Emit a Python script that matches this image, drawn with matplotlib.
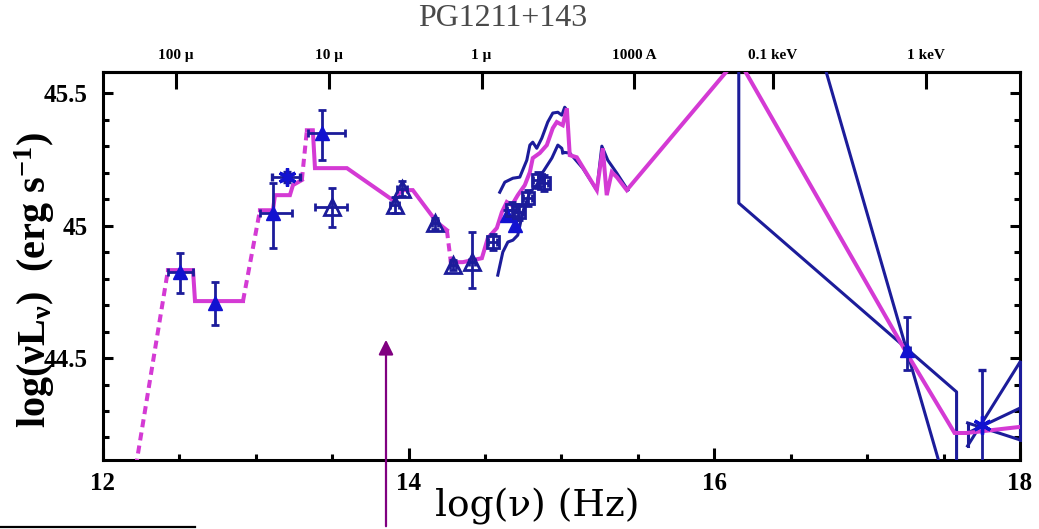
import matplotlib.pyplot as plt
import numpy as np
from matplotlib.lines import Line2D

# ---- SED model (magenta), dashed where interpolated ----
model_x = [12.215, 12.425, 12.589, 12.602, 12.916, 13.027, 13.112, 13.125, 13.223, 13.243,
           13.301, 13.334, 13.373, 13.387, 13.596, 13.897, 13.956, 14.027, 14.184, 14.250,
           14.276, 14.354, 14.420, 14.479, 14.518, 14.577, 14.610, 14.642, 14.675, 14.714,
           14.760, 14.793, 14.812, 14.858, 14.904, 14.943, 14.969, 15.008, 15.035, 15.054,
           15.100, 15.139, 15.231, 15.270, 15.296, 15.329, 15.362, 15.427, 16.153, 17.258,
           17.572, 17.651, 18.0]
model_y = [44.09, 44.832, 44.832, 44.715, 44.715, 45.058, 45.058, 45.115, 45.115, 45.153,
           45.172, 45.360, 45.360, 45.217, 45.217, 45.096, 45.134, 45.134, 45.013, 44.983,
           44.862, 44.862, 44.870, 44.877, 44.953, 44.991, 45.051, 45.089, 45.077, 45.115,
           45.153, 45.202, 45.255, 45.274, 45.304, 45.368, 45.391, 45.379, 45.443, 45.266,
           45.258, 45.221, 45.134, 45.292, 45.115, 45.202, 45.183, 45.134, 45.632, 44.519,
           44.217, 44.217, 44.240]
dashed_segments = [0, 4, 10, 19]

# ---- optical / UV spectra (blue lines) ----
spec_hi_x = [14.596, 14.629, 14.682, 14.727, 14.773, 14.793, 14.812, 14.838, 14.871, 14.910,
             14.943, 14.976, 15.002, 15.021, 15.035]
spec_hi_y = [45.126, 45.164, 45.179, 45.183, 45.247, 45.304, 45.315, 45.292, 45.330, 45.391,
             45.425, 45.428, 45.417, 45.447, 45.436]
spec_lo_x = [14.583, 14.616, 14.649, 14.682, 14.714, 14.747, 14.793, 14.838, 14.878, 14.937,
             14.976, 15.002, 15.009]
spec_lo_y = [44.813, 44.900, 44.938, 44.945, 44.964, 45.051, 45.126, 45.153, 45.202, 45.255,
             45.304, 45.292, 45.274]
spec_uv_x = [15.009, 15.054, 15.139, 15.231, 15.264, 15.303, 15.362, 15.434]
spec_uv_y = [45.277, 45.274, 45.217, 45.134, 45.300, 45.247, 45.198, 45.134]

# ---- X-ray lines ----
xr1_x = [16.160, 16.160, 17.585, 17.585]
xr1_y = [45.70, 45.085, 44.372, 44.00]
xr2_x = [16.672, 17.524]
xr2_y = [45.70, 44.00]
bowtie_x = [[17.657, 18.0], [17.657, 18.0], [17.657, 18.0], [18.0, 18.0], [17.657, 17.657]]
bowtie_y = [[44.168, 44.485], [44.217, 44.311], [44.255, 44.191], [44.191, 44.485], [44.168, 44.255]]

# ---- photometric points ----
# filled triangles
ft_x = [12.504, 12.733, 13.112, 13.432, 17.258, 14.642, 14.695]
ft_y = [44.825, 44.708, 45.047, 45.349, 44.530, 45.040, 45.002]
ft_xlo = [0.079, 0.0, 0.085, 0.091, 0.02, 0.0, 0.0]
ft_xhi = [0.085, 0.0, 0.124, 0.151, 0.02, 0.0, 0.0]
ft_ylo = [0.080, 0.083, 0.132, 0.102, 0.075, 0.02, 0.02]
ft_yhi = [0.071, 0.079, 0.113, 0.087, 0.125, 0.02, 0.02]
# open triangles
ot_x = [13.498, 13.956, 13.910, 14.171, 14.289, 14.413]
ot_y = [45.070, 45.140, 45.077, 45.009, 44.851, 44.862]
ot_xlo = [0.111, 0.03, 0.03, 0.02, 0.02, 0.02]
ot_xhi = [0.098, 0.03, 0.03, 0.02, 0.02, 0.02]
ot_ylo = [0.076, 0.03, 0.03, 0.02, 0.02, 0.098]
ot_yhi = [0.072, 0.03, 0.03, 0.02, 0.02, 0.113]
# open squares
sq_x = [14.551, 14.675, 14.721, 14.780, 14.845, 14.884]
sq_y = [44.938, 45.058, 45.051, 45.104, 45.172, 45.160]
sq_err = [0.03, 0.03, 0.03, 0.03, 0.03, 0.03]
# asterisks
st_x = [13.203, 17.749]
st_y = [45.183, 44.247]
st_xlo = [0.098, 0.0]
st_xhi = [0.085, 0.0]
st_ylo = [0.02, 0.35]
st_yhi = [0.02, 0.208]

top_ticks = [12.477, 13.477, 14.477, 15.477, 16.383, 17.383]
top_labels = ["100 \u03bc", "10 \u03bc", "1 \u03bc", "1000 A", "0.1 keV", "1 keV"]

MAG = '#d43ad4'
BLUE = '#1c1c9a'
MBLUE = '#1212d0'

plt.rcParams['font.family'] = ['Liberation Serif', 'DejaVu Serif']
plt.rcParams['mathtext.fontset'] = 'custom'
plt.rcParams['mathtext.rm'] = 'Liberation Serif'
plt.rcParams['mathtext.it'] = 'Liberation Serif:italic'
plt.rcParams['mathtext.bf'] = 'Liberation Serif:bold'

fig = plt.figure(figsize=(10.39, 5.29), dpi=100)
ax = fig.add_axes([103/1039, 1-460/529, 917/1039, 388/529])

# model drawn in runs of solid / dashed
n = len(model_x)
i = 0
while i < n - 1:
    dashed = i in dashed_segments
    j = i
    while j < n - 1 and (j in dashed_segments) == dashed:
        j += 1
        if dashed:
            break
    ax.plot(model_x[i:j+1], model_y[i:j+1], color=MAG, lw=2.9,
            ls=(0, (2.0, 1.3)) if dashed else '-', zorder=4, solid_joinstyle='miter')
    i = j

for sx, sy in [(spec_hi_x, spec_hi_y), (spec_lo_x, spec_lo_y), (spec_uv_x, spec_uv_y)]:
    ax.plot(sx, sy, color=BLUE, lw=2.2, zorder=3)

ax.plot(xr1_x, xr1_y, color=BLUE, lw=2.2, zorder=3)
ax.plot(xr2_x, xr2_y, color=BLUE, lw=2.2, zorder=3)
for bx, by in zip(bowtie_x, bowtie_y):
    ax.plot(bx, by, color=BLUE, lw=2.2, zorder=3, clip_on=False)

ekw = dict(ecolor=BLUE, elinewidth=2.0, capsize=3, capthick=2.0, zorder=5, ls='none')
ax.errorbar(ft_x, ft_y, xerr=[ft_xlo, ft_xhi], yerr=[ft_ylo, ft_yhi], fmt='^',
            ms=10, mfc=MBLUE, mec=MBLUE, **ekw)
ax.errorbar(ot_x, ot_y, xerr=[ot_xlo, ot_xhi], yerr=[ot_ylo, ot_yhi], fmt='^',
            ms=11, mfc='none', mec=BLUE, mew=2.0, **ekw)
ax.errorbar(sq_x, sq_y, xerr=[sq_err, sq_err], yerr=[sq_err, sq_err], fmt='s',
            ms=8, mfc='none', mec=BLUE, mew=2.0, **ekw)
ax.errorbar(st_x, st_y, xerr=[st_xlo, st_xhi], yerr=[st_ylo, st_yhi], marker=(6, 2, 0),
            ms=13, mfc=MBLUE, mec=MBLUE, mew=2.4, **ekw)

ax.set_xlim(12, 18)
ax.set_ylim(44.115, 45.58)
ax.set_xticks([12, 14, 16, 18])
ax.set_xticks(np.arange(12, 18.01, 0.5), minor=True)
ax.set_yticks([44.5, 45, 45.5])
ax.set_yticklabels(['44.5', '45', '45.5'])
ax.set_yticks(np.arange(44.2, 45.58, 0.1), minor=True)

for sp in ax.spines.values():
    sp.set_linewidth(2.2)
ax.tick_params(axis='x', which='major', direction='in', length=9, width=2.2, pad=9,
               labelsize=18, top=False)
ax.tick_params(axis='x', which='minor', direction='in', length=4.5, width=2.2, top=False)
ax.tick_params(axis='y', which='major', direction='in', length=7, width=2.2, pad=11,
               labelsize=18, right=True)
ax.tick_params(axis='y', which='minor', direction='in', length=4, width=2.2, right=True)
for lab in ax.get_xticklabels() + ax.get_yticklabels():
    lab.set_fontweight('bold')

sec = ax.secondary_xaxis('top')
sec.set_xticks(top_ticks, top_labels)
sec.tick_params(direction='in', length=12, width=2.2, pad=7, labelsize=11)
sec.spines['top'].set_linewidth(2.2)
for lab in sec.get_xticklabels():
    lab.set_fontweight('bold')

ax.set_ylabel(r'$\mathbf{log(\nu L_\nu)\ \ (erg\ s^{-1})}$', fontsize=29, va='center')
ax.yaxis.set_label_coords(-0.074, 0.464)
ax.set_xlabel('log(\u03bd) (Hz)', fontsize=27, va='center', family='DejaVu Serif')
ax.xaxis.set_label_coords(0.474, -0.121)

fig.text(503/1039, 1-19/529, 'PG1211+143', ha='center', va='center', fontsize=23,
         color='#4a4a4a')

# annotation arrow and stray rule from the page
ax.annotate('', xy=(386/1039, 1-337/529), xytext=(386/1039, 1-529/529),
            xycoords='figure fraction', textcoords='figure fraction',
            arrowprops=dict(arrowstyle='-|>', color='#800080', lw=1.6, mutation_scale=22),
            annotation_clip=False)
fig.add_artist(Line2D([0, 195/1039], [1-527/529, 1-527/529], color='black', lw=1.6))

fig.savefig('out.png', dpi=100)
